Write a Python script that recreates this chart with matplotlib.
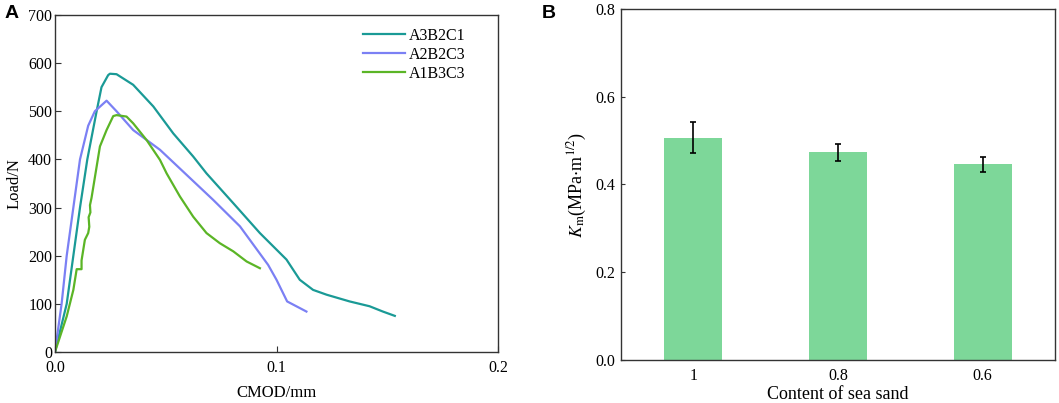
import matplotlib.pyplot as plt

plt.rcParams["font.family"] = ["Liberation Serif", "DejaVu Serif"]
plt.rcParams["mathtext.fontset"] = "stix"

# Panel A: load vs CMOD curves
a3b2c1_x = [0.0, 0.0053, 0.0083, 0.0113, 0.0146, 0.0188, 0.021, 0.024, 0.0248, 0.0278,
            0.0353, 0.0444, 0.0534, 0.0624, 0.0684, 0.0805, 0.0925, 0.1045, 0.1105,
            0.1165, 0.1226, 0.133, 0.142, 0.148, 0.1534]
a3b2c1_y = [0, 100, 200, 300, 400, 500, 550, 575, 578, 577,
            555, 510, 454, 406, 371, 309, 247, 192, 150,
            129, 119, 105, 95, 84, 75]

a2b2c3_x = [0.0, 0.003, 0.0053, 0.0083, 0.0113, 0.015, 0.018, 0.0233, 0.0278, 0.0353,
            0.0474, 0.0594, 0.0714, 0.0835, 0.0962, 0.1, 0.1048, 0.1135]
a2b2c3_y = [0, 100, 200, 300, 400, 470, 500, 522, 500, 461,
            420, 368, 316, 261, 181, 150, 105, 84]

a1b3c3_x = [0.0, 0.0053, 0.0083, 0.0098, 0.012, 0.012, 0.0135, 0.015, 0.0155, 0.0152, 0.016,
            0.0158, 0.0165, 0.0203, 0.0233, 0.0263, 0.0278, 0.0323, 0.0353, 0.0414,
            0.0474, 0.0504, 0.0564, 0.0624, 0.0684, 0.0744, 0.0805, 0.0865, 0.0925]
a1b3c3_y = [0, 74, 129, 172, 172, 190, 233, 247, 260, 280, 290,
            305, 320, 427, 461, 490, 492, 489, 475, 440,
            399, 371, 323, 281, 247, 226, 209, 188, 174]

# Panel B: fracture toughness vs sea sand content
sand_labels = ["1", "0.8", "0.6"]
km_values = [0.507, 0.473, 0.446]
km_errors = [0.036, 0.019, 0.017]

fig = plt.figure(figsize=(10.59, 4.03), dpi=100)
ax1 = fig.add_axes([0.0519, 0.1266, 0.4184, 0.8362])
ax2 = fig.add_axes([0.5864, 0.1067, 0.4098, 0.8710])

ax1.plot(a3b2c1_x, a3b2c1_y, color="#1a9a96", lw=1.6, label="A3B2C1")
ax1.plot(a2b2c3_x, a2b2c3_y, color="#7b80f4", lw=1.6, label="A2B2C3")
ax1.plot(a1b3c3_x, a1b3c3_y, color="#5bb526", lw=1.6, label="A1B3C3")
ax1.set_xlim(0, 0.2)
ax1.set_ylim(0, 700)
ax1.set_xticks([0.0, 0.1, 0.2])
ax1.set_xticklabels(["0.0", "0.1", "0.2"])
ax1.set_yticks(range(0, 701, 100))
ax1.set_xlabel("CMOD/mm", fontsize=12, labelpad=6)
ax1.set_ylabel("Load/N", fontsize=12, labelpad=4)
ax1.tick_params(direction="in", labelsize=11.5, length=4, color="#333333", pad=2)
ax1.tick_params(axis="x", pad=6)
ax1.legend(loc="upper right", bbox_to_anchor=(0.96, 1.005), frameon=False,
           fontsize=11.5, handlelength=2.6, labelspacing=0.2, handletextpad=0.3)

ax2.bar(range(len(km_values)), km_values, width=0.4, color="#7dd799",
        yerr=km_errors, capsize=2.5, error_kw={"elinewidth": 1.2, "capthick": 1.2,
                                               "ecolor": "black"})
ax2.set_xlim(-0.5, 2.5)
ax2.set_ylim(0, 0.8)
ax2.set_xticks(range(len(km_values)))
ax2.set_xticklabels(sand_labels)
ax2.set_yticks([0.0, 0.2, 0.4, 0.6, 0.8])
ax2.set_xlabel("Content of sea sand", fontsize=13, labelpad=1)
ax2.set_ylabel(r"$K_{\mathrm{m}}$(MPa$\cdot$m$^{1/2}$)", fontsize=13, labelpad=5)
ax2.tick_params(direction="in", labelsize=11.5, length=3, color="#333333", pad=4)
ax2.tick_params(axis="x", length=0, pad=6)

for ax in (ax1, ax2):
    for s in ax.spines.values():
        s.set_color("#333333")
        s.set_linewidth(1.0)

fig.text(0.004, 0.955, "A", fontsize=14, fontweight="bold", family="Liberation Sans")
fig.text(0.512, 0.955, "B", fontsize=14, fontweight="bold", family="Liberation Sans")

fig.savefig("out.png", dpi=100)
